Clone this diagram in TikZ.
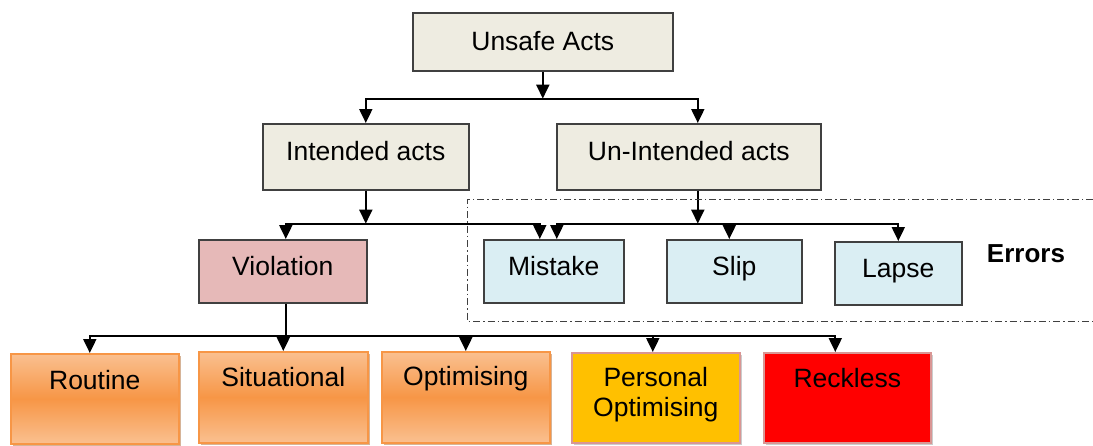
\documentclass[tikz,border=0pt]{standalone}
\usepackage{fontspec}
\setmainfont{Liberation Sans}
\usetikzlibrary{arrows.meta,shadows}
\definecolor{beige}{HTML}{EEECE1}
\definecolor{errblue}{HTML}{DAEEF3}
\definecolor{violpink}{HTML}{E6B9B8}
\definecolor{orangeM}{HTML}{F79646}
\definecolor{orangeL}{HTML}{FAC090}
\definecolor{persyellow}{HTML}{FFC000}
\definecolor{pinkline}{HTML}{D99694}
\definecolor{frame}{HTML}{404040}

\begin{document}
\begin{tikzpicture}[x=1pt, y=-1pt,
  box/.style={draw=frame, line width=1.6pt, rectangle, anchor=north west,
    inner xsep=0pt, inner ysep=0pt, font=\fontsize{26.5}{30}\selectfont, align=center},
  actbox/.style={box, fill=beige},
  errbox/.style={box, fill=errblue},
  violbox/.style={box, fill=violpink},
  kindbox/.style={box, draw=orangeM, top color=orangeL, bottom color=orangeL, middle color=orangeM,
    drop shadow={shadow xshift=2pt, shadow yshift=-2pt, fill=orangeM!70!black, opacity=0.5}},
  hotbox/.style={box, draw=pinkline,
    drop shadow={shadow xshift=2pt, shadow yshift=-2pt, fill=black, opacity=0.2}},
  link/.style={line width=2pt, -{Triangle[length=14pt,width=13pt]}},
  plain/.style={line width=2pt}]
\useasboundingbox (0,0) rectangle (1093,445);

\node[actbox, minimum width=260pt, minimum height=58pt, text height=37.5pt, text depth=20.5pt] (unsafe) at (412,12) {Unsafe Acts};
\node[actbox, minimum width=206pt, minimum height=66pt, text height=36.5pt, text depth=29.5pt] (intended) at (262,123) {Intended acts};
\node[actbox, minimum width=264pt, minimum height=66pt, text height=36.5pt, text depth=29.5pt] (unint) at (556,123) {Un-Intended acts};

\node[violbox, minimum width=168pt, minimum height=63pt, text height=35.5pt, text depth=27.5pt] (viol) at (198,239) {Violation};
\node[errbox, minimum width=140pt, minimum height=63pt, text height=35.5pt, text depth=27.5pt] (mistake) at (483,239) {Mistake};
\node[errbox, minimum width=135pt, minimum height=63pt, text height=36pt, text depth=27pt] (slip) at (666,239) {Slip};
\node[errbox, minimum width=127pt, minimum height=63pt, text height=36pt, text depth=27pt] (lapse) at (834,241) {Lapse};
\node[font=\fontsize{26}{30}\selectfont\bfseries] (errors) at (1026,254) {Errors};

\node[kindbox, minimum width=168pt, minimum height=90pt, text height=36pt, text depth=54pt] (routine) at (10,353) {Routine};
\node[kindbox, minimum width=169pt, minimum height=91pt, text height=35pt, text depth=56pt] (situational) at (198,351) {Situational};
\node[kindbox, minimum width=168pt, minimum height=91pt, text height=34pt, text depth=57pt] (optimising) at (381,351) {Optimising};
\node[hotbox, fill=persyellow, minimum width=168pt, minimum height=90pt, text height=63.5pt, text depth=26.5pt] (personal) at (571,352) {Personal\\Optimising};
\node[hotbox, fill=red, minimum width=167pt, minimum height=90pt, text height=35pt, text depth=55pt] (reckless) at (763,352) {Reckless};

\draw[link] (unsafe.south) -- ++(0,27) coordinate (topfork);
\draw[link] (topfork) -| (intended.north);
\draw[link] (topfork) -| ([xshift=9pt]unint.north);

\draw[link] (intended.south) -- ++(0,33) coordinate (midfork);
\draw[link] (midfork) -| ([xshift=3pt]viol.north);
\draw[link] (midfork) -| ([xshift=-14pt]mistake.north);

\draw[link] ([xshift=9pt]unint.south) -- ++(0,33) coordinate (errfork);
\draw[link] (errfork) -| ([xshift=3pt]mistake.north);
\draw[link] (errfork) -| ([xshift=-5pt]slip.north);
\draw[link] (errfork) -| (lapse.north);

\draw[plain] ([xshift=3pt]viol.south) -- ++(0,32) coordinate (lowfork);
\draw[link] (lowfork) -| ([xshift=-5pt]routine.north);
\draw[link] (lowfork) -| (situational.north);
\draw[link] (lowfork) -| (optimising.north);
\draw[link] (lowfork) -| ([xshift=-3pt]personal.north);
\draw[link] (lowfork) -| ([xshift=-12pt]reckless.north);

\draw[frame, line width=1pt, dash pattern=on 7pt off 3pt on 1.5pt off 3pt]
  (1093,199) -- (467,199) -- (467,321) -- (1093,321);
\end{tikzpicture}
\end{document}
